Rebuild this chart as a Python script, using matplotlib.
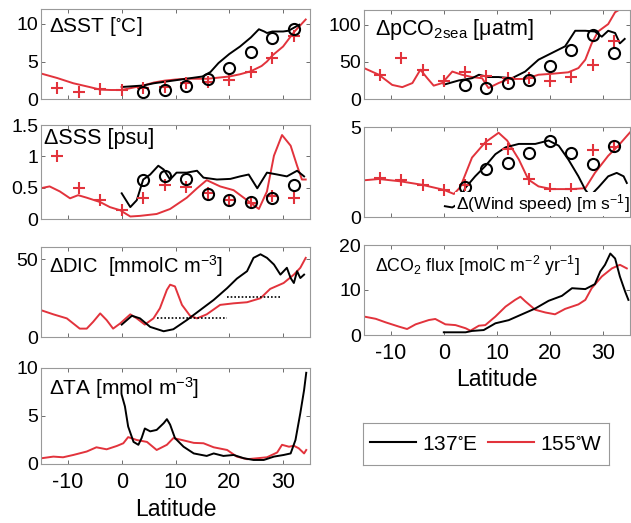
import matplotlib
matplotlib.use("Agg")
import matplotlib.pyplot as plt
from matplotlib.lines import Line2D
import numpy as np

plt.rcParams['font.family'] = ['Liberation Sans', 'DejaVu Sans']
plt.rcParams['mathtext.default'] = 'regular'
plt.rcParams['axes.unicode_minus'] = False

RED = '#e2333c'
BLACK = '#000000'

# ---------------- data ----------------
mk_lat_red = [-12, -8, -4, 0, 4, 8, 12, 16, 20, 24, 28, 32]
mk_lat_blk = [4, 8, 12, 16, 20, 24, 28, 32]

# SST
sst_red_lat = [-15, -12, -9, -6, -4, -2, 0, 2, 4, 6, 8, 10, 12, 14, 16, 18, 20, 22, 24, 26, 27, 28, 30, 32, 34.2]
sst_red = [3.4, 2.8, 2.1, 1.6, 1.25, 1.2, 1.2, 1.5, 1.8, 2.2, 2.45, 2.6, 2.7, 2.7, 2.7, 2.85, 3.0, 3.3, 3.7, 4.4, 5.0, 5.8, 7.0, 8.9, 10.6]
sst_blk_lat = [0, 2, 4, 6, 8, 10, 12, 14, 15, 16.5, 18, 20, 22, 24, 25.5, 26.5, 27, 28, 30, 31, 32, 33]
sst_blk = [1.6, 1.7, 1.8, 2.1, 2.3, 2.5, 2.7, 2.9, 3.0, 3.6, 4.8, 6.0, 7.0, 8.2, 9.3, 9.0, 8.8, 9.0, 9.0, 9.1, 9.5, 9.9]
sst_cross = [1.5, 1.0, 1.35, 1.25, 1.5, 1.6, 2.15, 2.25, 2.6, 3.6, 5.5, 8.4]
sst_circ = [0.95, 1.15, 1.8, 2.7, 4.2, 6.3, 8.1, 9.3]

# pCO2sea
pco2_red_lat = [-15, -12.2, -9.7, -7.8, -5.9, -4.4, -3.1, -1.9, -0.3, 1.6, 3.4, 5.3, 7.2, 8.4, 10.3, 12.2, 15.3, 17.8, 20.3, 23.4, 25.3, 26.6, 27.8, 29, 30.9, 32.2, 33.4, 35]
pco2_red = [41.7, 32.7, 19, 16, 21.5, 39.5, 28, 18, 21.5, 37, 32.7, 29.6, 28, 14.8, 21.5, 27, 27, 32.7, 34, 36, 41.7, 53, 75, 91, 101, 117, 122, 124]
pco2_blk_lat = [0, 2.8, 5.3, 6.6, 8.4, 10.3, 12.8, 15.3, 17.8, 20.3, 22.8, 24.7, 26.6, 28.4, 29.7, 30.9, 32.2, 33.1, 34]
pco2_blk = [19.3, 25, 28, 32.7, 29.6, 29.6, 28, 37, 53, 62, 71, 92, 92, 91, 84, 92, 89, 75, 81]
pco2_cross = [32.7, 55, 39.5, 24.7, 35.9, 30.5, 28.3, 28.3, 23.8, 29.6, 46.2, 77.6]
pco2_circ = [19.3, 14.8, 21.5, 26, 44.8, 66.4, 86.5, 61.9]

# SSS
sss_red_lat = [-15.1, -13.4, -11.5, -9.6, -8.1, -6.5, -4, -2.2, -0.3, 1.6, 3.4, 6.5, 9, 12.1, 14, 15.8, 18.3, 20.8, 23.3, 25.5, 27, 28.3, 29.8, 31.4, 32.6, 33.5, 34.2]
sss_red = [0.49, 0.52, 0.44, 0.33, 0.38, 0.34, 0.27, 0.19, 0.14, 0.04, 0.05, 0.08, 0.16, 0.34, 0.49, 0.62, 0.52, 0.46, 0.30, 0.16, 0.44, 1.01, 1.34, 1.17, 0.85, 0.63, 0.63]
sss_blk_lat = [0, 1.6, 2.8, 4, 5.3, 6.8, 7.8, 9, 10.2, 12.1, 14, 15.2, 17.7, 20.2, 22, 23.6, 25.2, 27, 28.9, 30.7, 32.6, 33.9]
sss_blk = [0.41, 0.19, 0.30, 0.63, 0.71, 0.85, 0.79, 0.63, 0.74, 0.74, 0.77, 0.66, 0.63, 0.64, 0.68, 0.71, 0.49, 0.74, 0.71, 0.68, 0.77, 0.68]
sss_cross = [1.01, 0.49, 0.30, 0.15, 0.33, 0.55, 0.51, 0.41, 0.31, 0.25, 0.36, 0.34]
sss_circ = [0.63, 0.68, 0.64, 0.40, 0.31, 0.27, 0.34, 0.55]

# Wind speed
wind_red_lat = [-15, -12.2, -8.1, -4.1, 0, 1.9, 3.1, 5.3, 7.8, 10.3, 11.9, 14.1, 15.9, 17.8, 20.3, 24.1, 26.6, 28.4, 30.9, 32.8, 34.4, 35]
wind_red = [2.04, 2.11, 1.98, 1.79, 1.51, 1.28, 1.66, 3.3, 4.15, 4.68, 4.25, 3.2, 2.08, 1.7, 1.55, 1.55, 1.6, 2.45, 3.4, 3.96, 4.5, 4.7]
wind_blk_lat = [0.2, 1.6, 2.8, 4, 5.9, 7.8, 9.7, 11.6, 14.1, 17.2, 19.7, 21.6, 23.4, 25.3, 26.6, 27.5, 29.1, 30.9, 32.5, 33.8, 34.4]
wind_blk = [0.6, 0.53, 0.75, 1.6, 2.26, 2.83, 3.49, 3.87, 4.06, 4.06, 4.25, 3.96, 3.2, 2.26, 1.51, 1.17, 1.66, 2.26, 2.45, 2.26, 1.89]
wind_cross = [2.17, 2.04, 1.79, 1.51, 1.79, 4.06, 3.8, 2.11, 1.55, 1.55, 3.74, 3.9]
wind_circ = [1.66, 2.64, 2.98, 3.58, 4.25, 3.55, 2.92, 3.92]

# DIC
dic_red_lat = [-15.1, -12.7, -10.2, -7.8, -6.5, -5.3, -4, -2.8, -1.6, -0.3, 1.6, 2.8, 4.3, 5.9, 7.1, 8.4, 9, 9.9, 11.2, 12.7, 14, 15.8, 18.3, 20.8, 23.3, 25.8, 27.6, 30.1, 32, 33.2, 34.2]
dic_red = [17.4, 14.6, 12, 5.4, 5.4, 9.8, 15.2, 10.9, 5.4, 8.7, 14.6, 12, 8, 12, 18.5, 30.4, 33.7, 32.6, 20.7, 13.7, 12, 14.6, 20.7, 21.7, 22.4, 25, 31, 34.8, 40.2, 44.6, 51]
dic_blk_lat = [0, 1.9, 3.4, 5.3, 7.8, 9.6, 12.1, 14.6, 17.1, 19.6, 21.4, 23.3, 24.5, 25.8, 27, 28.3, 29.5, 30.7, 31.4, 32, 32.6, 33.2, 33.9]
dic_blk = [8, 13.7, 12, 6.5, 3.7, 5, 10.9, 17.4, 23.9, 31.5, 37.6, 42.4, 51, 53.3, 51, 46.7, 40.2, 44.6, 38, 34.8, 42.4, 38, 40.2]
dic_obs_lat = [[6.5, 19.6], [19.6, 29.8]]
dic_obs = [12.4, 25.6]

# CO2 flux
flux_red_lat = [-15, -12.8, -10.9, -8.4, -6.9, -5.3, -2.8, -1.6, 0.3, 2.2, 4.1, 5, 6.6, 7.8, 9.7, 11.6, 13.4, 14.4, 15.3, 17.2, 19.1, 20.9, 22.8, 25.3, 26.6, 27.8, 29.7, 31.6, 33.1, 34.4]
flux_red = [4.1, 3.6, 2.8, 1.85, 1.33, 2.37, 3.33, 3.56, 2.37, 2.2, 1.5, 0.96, 2.07, 2.2, 4.1, 6.3, 7.8, 8.5, 7.5, 5.6, 5.0, 4.6, 5.8, 6.8, 7.8, 10.4, 13, 14.8, 15.6, 14.8]
flux_blk_lat = [0, 4.1, 5.3, 7.5, 9.7, 12.2, 14.7, 17.2, 19.7, 22.2, 24.1, 26.6, 28.4, 29.4, 30.3, 31.3, 32.2, 33.1, 34.1, 34.7]
flux_blk = [0.6, 0.6, 0.9, 1.1, 2.6, 3.3, 4.6, 5.9, 7.6, 8.7, 10.4, 10.2, 11.3, 14.1, 15.6, 18.1, 17, 13, 9.6, 7.8]

# TA
ta_red_lat = [-14.9, -12.7, -10.9, -9, -6.5, -4.7, -2.8, -0.9, 0.3, 1.2, 2.8, 4.7, 6.5, 8.4, 9.6, 11.2, 13.4, 15.2, 17.1, 19.6, 21.4, 23.3, 25.2, 27, 28.9, 29.8, 31.1, 32, 32.9, 33.9, 34.3]
ta_red = [0.6, 0.77, 0.7, 0.94, 1.3, 1.74, 1.53, 1.88, 2.16, 2.8, 2.5, 2.3, 1.46, 2.0, 2.7, 2.5, 2.2, 2.16, 1.74, 1.46, 0.77, 0.5, 0.6, 0.7, 1.2, 2.0, 1.8, 1.9, 1.64, 1.1, 1.46]
ta_blk_lat = [0, 0.6, 1.2, 2.2, 3.1, 3.7, 4.3, 5.3, 6.5, 7.8, 8.4, 9, 9.9, 11.5, 13.4, 15.8, 17.1, 18.9, 20.8, 22.7, 24.5, 26.4, 28.3, 30.1, 31.4, 32.3, 33.2, 33.9, 34.3]
ta_blk = [7.2, 6.0, 3.9, 2.3, 2.0, 2.7, 3.7, 3.4, 3.55, 4.25, 4.67, 4.1, 2.7, 1.8, 1.1, 0.84, 1.1, 0.84, 0.94, 0.6, 0.42, 0.42, 0.77, 0.94, 1.1, 2.5, 5.3, 7.7, 9.5]

x_ticks = [-10, 0, 10, 20, 30]
legend_labels = ['137$^{\\circ}$E', '155$^{\\circ}$W']

# ---------------- figure ----------------
W, H = 631, 523
fig = plt.figure(figsize=(W / 100, H / 100), dpi=100)


def make_ax(px_left, px_top, px_w, px_h):
    return fig.add_axes([px_left / W, 1 - (px_top + px_h) / H, px_w / W, px_h / H])


def style(ax, ylim, yticks, xlabels=False):
    ax.set_xlim(-15, 35)
    ax.set_ylim(*ylim)
    ax.set_xticks(x_ticks)
    ax.set_yticks(yticks)
    ax.set_yticklabels(['%g' % v for v in yticks])
    ax.tick_params(direction='in', length=3, width=0.6, color='#555555',
                   top=True, right=True, labelsize=14, pad=2)
    if not xlabels:
        ax.set_xticklabels([])
    else:
        ax.tick_params(axis='x', labelsize=15.5, pad=6)
        ax.set_xlabel('Latitude', fontsize=16.5, labelpad=3)
    for s in ax.spines.values():
        s.set_color('#999999')
        s.set_linewidth(0.8)


LW = 1.4
cross_kw = dict(linestyle='none', marker='+', color=RED, markersize=9, mew=1.5)
circ_kw = dict(linestyle='none', marker='o', mfc='none', mec=BLACK, markersize=8, mew=1.5)

# Left column
ax = make_ax(41, 9, 269, 90)
ax.plot(sst_red_lat, sst_red, color=RED, lw=LW)
ax.plot(sst_blk_lat, sst_blk, color=BLACK, lw=LW)
ax.plot(mk_lat_red, sst_cross, **cross_kw)
ax.plot(mk_lat_blk, sst_circ, **circ_kw)
style(ax, (0, 12), [0, 5, 10])
ax.text(0.03, 0.93, '\u0394SST [$^{\\circ}$C]', transform=ax.transAxes, ha='left', va='top', fontsize=15)

ax = make_ax(41, 125, 269, 94)
ax.plot(sss_red_lat, sss_red, color=RED, lw=LW)
ax.plot(sss_blk_lat, sss_blk, color=BLACK, lw=LW)
ax.plot(mk_lat_red, sss_cross, **cross_kw)
ax.plot(mk_lat_blk, sss_circ, **circ_kw)
style(ax, (0, 1.5), [0, 0.5, 1, 1.5])
ax.text(0.01, 0.97, '\u0394SSS [psu]', transform=ax.transAxes, ha='left', va='top', fontsize=15.5)

ax = make_ax(41, 247, 269, 90)
ax.plot(dic_red_lat, dic_red, color=RED, lw=LW)
ax.plot(dic_blk_lat, dic_blk, color=BLACK, lw=LW)
for xs, v in zip(dic_obs_lat, dic_obs):
    ax.plot(xs, [v, v], color=BLACK, lw=1.2, linestyle=(0, (1, 1.2)))
style(ax, (0, 58), [0, 50])
ax.text(0.03, 0.93, '\u0394DIC  [mmolC m$^{-3}$]', transform=ax.transAxes, ha='left', va='top', fontsize=14.5)

ax = make_ax(41, 368, 269, 96)
ax.plot(ta_red_lat, ta_red, color=RED, lw=LW)
ax.plot(ta_blk_lat, ta_blk, color=BLACK, lw=LW)
style(ax, (0, 10), [0, 5, 10], xlabels=True)
ax.text(0.03, 0.93, '\u0394TA [mmol m$^{-3}$]', transform=ax.transAxes, ha='left', va='top', fontsize=15)

# Right column
ax = make_ax(364, 10, 266, 89)
ax.plot(pco2_red_lat, pco2_red, color=RED, lw=LW)
ax.plot(pco2_blk_lat, pco2_blk, color=BLACK, lw=LW)
ax.plot(mk_lat_red, pco2_cross, **cross_kw)
ax.plot(mk_lat_blk, pco2_circ, **circ_kw)
style(ax, (0, 120), [0, 50, 100])
ax.text(0.04, 0.92, '\u0394pCO$_{2sea}$ [\u03bcatm]', transform=ax.transAxes, ha='left', va='top', fontsize=15.5)

ax = make_ax(364, 127, 266, 90)
ax.plot(wind_red_lat, wind_red, color=RED, lw=LW)
ax.plot(wind_blk_lat, wind_blk, color=BLACK, lw=LW)
ax.plot(mk_lat_red, wind_cross, **cross_kw)
ax.plot(mk_lat_blk, wind_circ, **circ_kw)
style(ax, (0, 5), [0, 5])
ax.text(0.998, 0.02, '\u0394(Wind speed) [m s$^{-1}$]', transform=ax.transAxes, ha='right', va='bottom', fontsize=12.6,
        bbox=dict(facecolor='white', edgecolor='none', pad=0.5))

ax = make_ax(364, 245, 266, 90)
ax.plot(flux_red_lat, flux_red, color=RED, lw=LW)
ax.plot(flux_blk_lat, flux_blk, color=BLACK, lw=LW)
style(ax, (0, 20), [0, 10, 20], xlabels=True)
ax.text(0.04, 0.9, '\u0394CO$_2$ flux [molC m$^{-2}$ yr$^{-1}$]', transform=ax.transAxes, ha='left', va='top', fontsize=12.8)

# Legend box
lax = make_ax(363, 423, 246, 42)
lax.set_xticks([])
lax.set_yticks([])
for s in lax.spines.values():
    s.set_color('#999999')
    s.set_linewidth(0.8)
handles = [Line2D([0], [0], color=BLACK, lw=1.5), Line2D([0], [0], color=RED, lw=1.5)]
lax.legend(handles, legend_labels, loc='center', ncol=2, frameon=False, fontsize=15,
           handlelength=2.2, handletextpad=0.3, columnspacing=0.5, borderpad=0)

fig.savefig('out.png', dpi=100)
